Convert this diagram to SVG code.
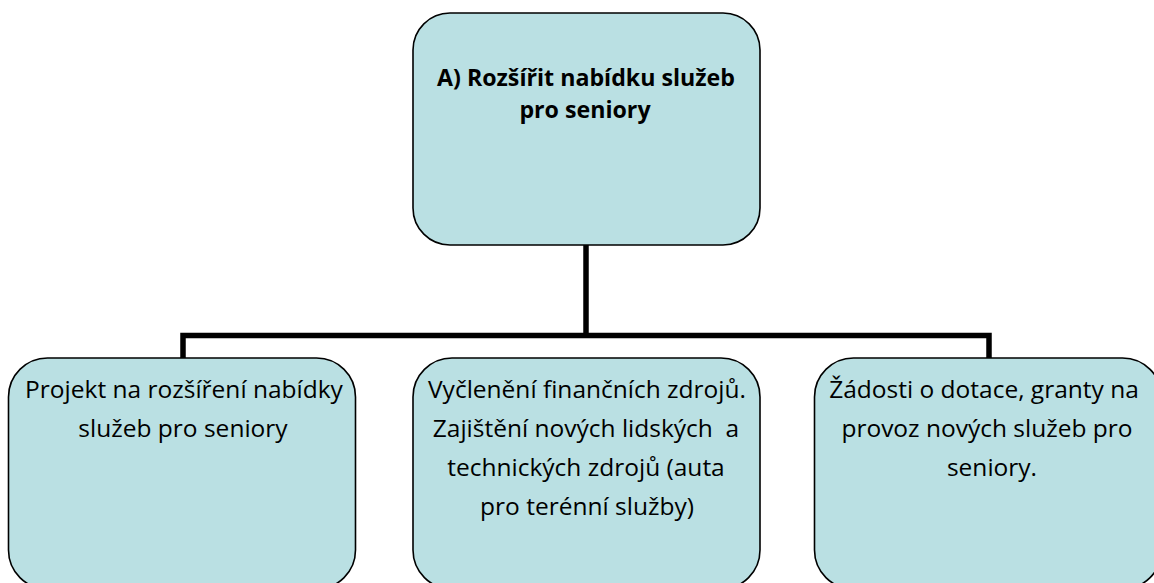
<svg xmlns="http://www.w3.org/2000/svg" width="1154" height="583" viewBox="0 0 1154 583">
<style>
.box{fill:#BAE0E3;stroke:#000;stroke-width:1.6}
.t{font-family:"Open Sans","Noto Sans","Liberation Sans",sans-serif;font-size:24.5px;fill:#000;text-anchor:middle}
.b{font-weight:bold;font-size:23.2px}
.c{fill:none;stroke:#000;stroke-width:5.5;stroke-linejoin:miter}
</style>
<rect width="1154" height="583" fill="#fff"/>
<g id="connectors">
<path class="c" d="M586 245 V335.5"/>
<path class="c" d="M183 358 V335.5 H989 V358"/>
</g>
<g id="node-top">
<rect class="box" x="413" y="13" width="347" height="232" rx="37" ry="37"/>
<text class="t b" x="586" y="86">A) Rozšířit nabídku služeb</text>
<text class="t b" x="585" y="118">pro seniory</text>
</g>
<g id="node-left">
<rect class="box" x="8.5" y="358" width="347" height="231" rx="39" ry="39"/>
<text class="t" x="184" y="398">Projekt na rozšíření nabídky</text>
<text class="t" x="183" y="437">služeb pro seniory</text>
</g>
<g id="node-middle">
<rect class="box" x="413" y="358" width="347" height="231" rx="39" ry="39"/>
<text class="t" x="587" y="398">Vyčlenění finančních zdrojů.</text>
<text class="t" x="586" y="437" xml:space="preserve">Zajištění nových lidských  a</text>
<text class="t" x="586" y="476">technických zdrojů (auta</text>
<text class="t" x="587" y="515">pro terénní služby)</text>
</g>
<g id="node-right">
<rect class="box" x="814.5" y="358" width="347" height="231" rx="39" ry="39"/>
<text class="t" x="984" y="398">Žádosti o dotace, granty na</text>
<text class="t" x="987" y="437">provoz nových služeb pro</text>
<text class="t" x="992" y="476">seniory.</text>
</g>
</svg>
